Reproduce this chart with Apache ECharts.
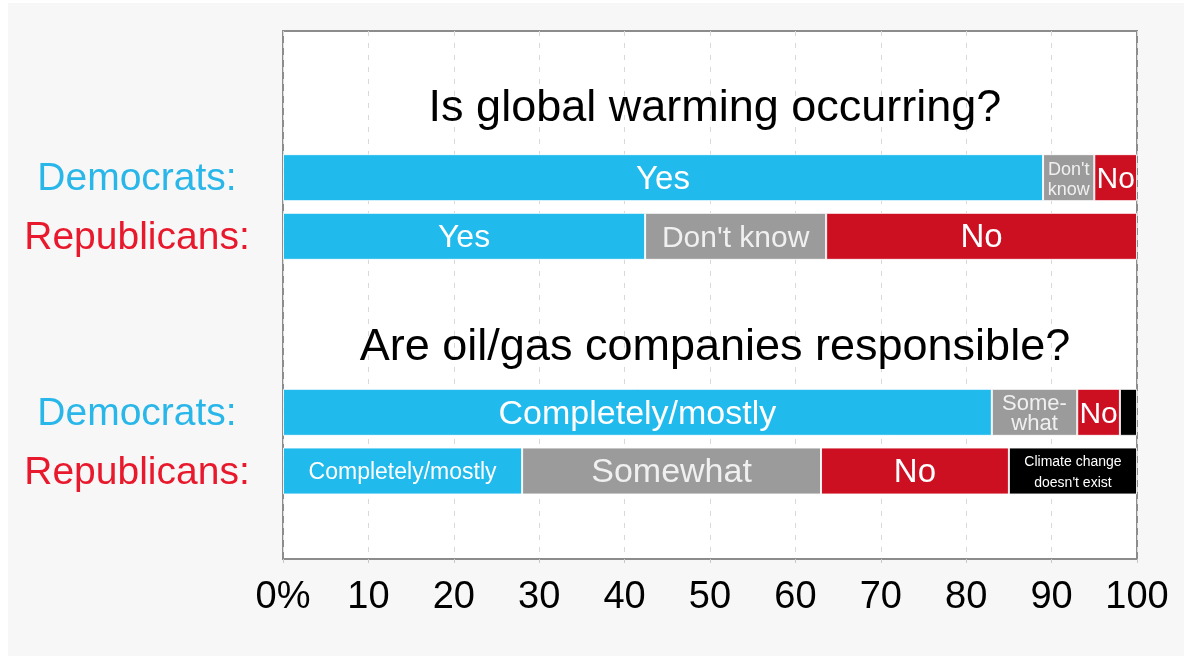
<!DOCTYPE html>
<html>
<head>
<meta charset="utf-8">
<script src="https://cdn.jsdelivr.net/npm/echarts@6/dist/echarts.min.js"></script>
<style>
  html, body { margin: 0; padding: 0; background: #ffffff; width: 1184px; height: 656px; overflow: hidden; }
  #chart { position: absolute; left: 8px; top: 3px; width: 1176px; height: 653px; }
</style>
</head>
<body>
<div id="chart"></div>
<script>
// ---------- data ----------
const questions = ['Is global warming occurring?', 'Are oil/gas companies responsible?'];
const rowNames = ['Democrats:', 'Republicans:', 'Democrats:', 'Republicans:'];
const blueValues  = [89, 42.4, 83, 28];
const grayValues  = [6, 21.2, 10, 35];
const redValues   = [5, 36.4, 5, 22];
const blackValues = [0, 0, 2, 15];
const blueLabels  = ['Yes', 'Yes', 'Completely/mostly', 'Completely/mostly'];
const grayLabels  = ["Don't\nknow", "Don't know", 'Some-\nwhat', 'Somewhat'];
const redLabels   = ['No', 'No', 'No', 'No'];
const blackLabels = ['', '', '', "Climate change\ndoesn't exist"];
const xTickLabels = ['0%', '10', '20', '30', '40', '50', '60', '70', '80', '90', '100'];

// ---------- layout of category slots (top to bottom) ----------
const slots = ['gap0', 'q0', 'r0', 'r1', 'gap1', 'q1', 'r2', 'r3', 'gap2'];
const slotRow = slots.map(s => s[0] === 'r' ? parseInt(s.slice(1)) : -1);

// label styles (font sizes per row/segment)
const FONT = '"Liberation Sans", Arial, Helvetica, sans-serif';
const labelStyle = {
  blue:  [{fontSize: 33}, {fontSize: 32}, {fontSize: 34}, {fontSize: 23}],
  gray:  [{fontSize: 18, lineHeight: 20}, {fontSize: 30}, {fontSize: 22, lineHeight: 20}, {fontSize: 34}],
  red:   [{fontSize: 30}, {fontSize: 33}, {fontSize: 30}, {fontSize: 33}],
  black: [{fontSize: 14}, {fontSize: 14}, {fontSize: 14}, {fontSize: 14, lineHeight: 21}]
};

function buildSeries(name, values, labels, color, styleKey, textColor) {
  return {
    name: name,
    type: 'bar',
    stack: 'total',
    barWidth: 47,
    itemStyle: { color: color, borderColor: 'rgba(255,255,255,0.85)', borderWidth: 1 },
    label: {
      show: true,
      position: 'inside',
      offset: [0, 2],
      color: textColor,
      fontFamily: FONT,
      formatter: p => { const r = slotRow[p.dataIndex]; return r >= 0 ? labels[r] : ''; }
    },
    data: slotRow.map(r => {
      if (r < 0 || !values[r]) return '-';
      return { value: values[r], label: labelStyle[styleKey][r] };
    })
  };
}

const chart = echarts.init(document.getElementById('chart'));
chart.setOption({
  animation: false,
  backgroundColor: '#f7f7f7',
  title: [
    { text: questions[0], left: 702, top: 78, textAlign: 'center',
      textStyle: { fontFamily: FONT, fontSize: 45, fontWeight: 'normal', color: '#000' } },
    { text: questions[1], left: 702, top: 317, textAlign: 'center',
      textStyle: { fontFamily: FONT, fontSize: 45, fontWeight: 'normal', color: '#000' } }
  ],
  grid: {
    left: 275, right: 47, top: 28, bottom: 97,
    show: true, backgroundColor: '#ffffff', borderColor: '#8c8c8c', borderWidth: 2
  },
  xAxis: {
    type: 'value', min: 0, max: 100, interval: 10,
    axisLine: { show: true, lineStyle: { color: '#8c8c8c', width: 2 } },
    axisTick: { show: true, length: 4, lineStyle: { color: '#c8c8c8' } },
    splitLine: { show: true, lineStyle: { color: '#d9d9d9', type: [5, 7], width: 1 } },
    axisLabel: {
      margin: 20, fontSize: 38, color: '#000', fontFamily: FONT,
      formatter: v => xTickLabels[Math.round(v / 10)]
    }
  },
  yAxis: {
    type: 'category', inverse: true, data: slots,
    axisLine: { show: false }, axisTick: { show: false }, splitLine: { show: false },
    axisLabel: {
      align: 'center', margin: 146, fontFamily: FONT,
      formatter: (v, i) => {
        const r = slotRow[i];
        if (r < 0) return '';
        return (r % 2 === 0 ? '{d|' : '{r|') + rowNames[r] + '}';
      },
      rich: {
        d: { fontSize: 39, color: '#29b6e9', fontFamily: FONT, padding: [4, 0, 0, 0] },
        r: { fontSize: 39, color: '#e8192c', fontFamily: FONT, padding: [4, 0, 0, 0] }
      }
    }
  },
  series: [
    buildSeries('blue', blueValues, blueLabels, '#21baec', 'blue', '#ffffff'),
    buildSeries('gray', grayValues, grayLabels, '#9b9b9b', 'gray', '#f0f0f0'),
    buildSeries('red', redValues, redLabels, '#cc1022', 'red', '#ffffff'),
    buildSeries('black', blackValues, blackLabels, '#000000', 'black', '#ffffff')
  ]
});
</script>
</body>
</html>
